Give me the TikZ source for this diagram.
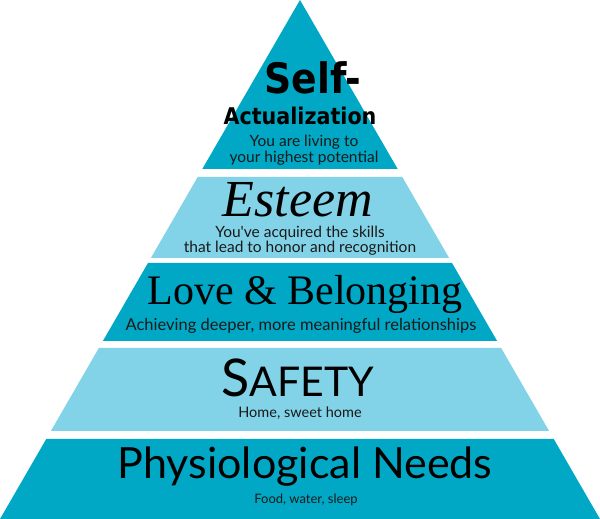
\documentclass[tikz,border=0pt]{standalone}
\usepackage{fontspec}
\setmainfont{Liberation Serif}
\newfontfamily\condfont{DejaVu Sans Condensed}
\newfontfamily\subfont{Lato}
\usepackage{tikz}
\usetikzlibrary{positioning}
\usetikzlibrary{calc}
\definecolor{tealdark}{HTML}{00A8C6}
\definecolor{teallight}{HTML}{82D3E7}

\tikzset{
  sub/.style={font=\subfont\fontsize{14}{15}\selectfont, align=center, text=black!90},
}

% one band of the pyramid, between two heights (px from the top)
\newcommand{\band}[3]{%
  \fill[#3] ({300-0.578*#1},{519-#1}) -- ({300+0.578*#1},{519-#1})
            -- ({300+0.578*#2},{519-#2}) -- ({300-0.578*#2},{519-#2}) -- cycle;}

\begin{document}
\begin{tikzpicture}[x=1pt, y=1pt]

\useasboundingbox (0,0) rectangle (600,519);

\band{0}{169}{tealdark}
\band{177}{258}{teallight}
\band{263}{341}{tealdark}
\band{348}{431}{teallight}
\band{439}{519}{tealdark}

\node[font=\condfont\bfseries\fontsize{42}{42}\selectfont] (self) at (313, 441) {Self-};
\node[font=\condfont\bfseries\fontsize{23}{23}\selectfont] (actual) at (300, 403) {Actualization};
\node[sub, font=\subfont\fontsize{15.5}{16}\selectfont] (selftxt) at (304, 369) {You are living to\\your highest potential};

\node[font=\itshape\fontsize{52}{52}\selectfont, inner sep=1pt] (esteem) at (298, 319) {Esteem};
\node[sub, font=\subfont\fontsize{15.5}{15}\selectfont, inner sep=1pt] (esteemtxt) at (300, 278) {You've acquired the skills\\that lead to honor and recognition};

\node[font=\fontsize{42}{42}\selectfont] (love) at (305, 225) {Love \& Belonging};
\node[sub, font=\subfont\fontsize{16.5}{17}\selectfont] (lovetxt) at (301, 193) {Achieving deeper, more meaningful relationships};

\node[font=\subfont\fontsize{52}{52}\selectfont] (safety) at (298, 141) {S{\fontsize{41}{41}\selectfont AFETY}};
\node[sub, font=\subfont\fontsize{14.5}{15}\selectfont] (safetytxt) at (300, 106) {Home, sweet home};

\node[font=\subfont\fontsize{43}{43}\selectfont] (physio) at (305, 52) {Physiological Needs};
\node[sub, font=\subfont\fontsize{13}{14}\selectfont] (physiotxt) at (306, 19) {Food, water, sleep};

\end{tikzpicture}
\end{document}
